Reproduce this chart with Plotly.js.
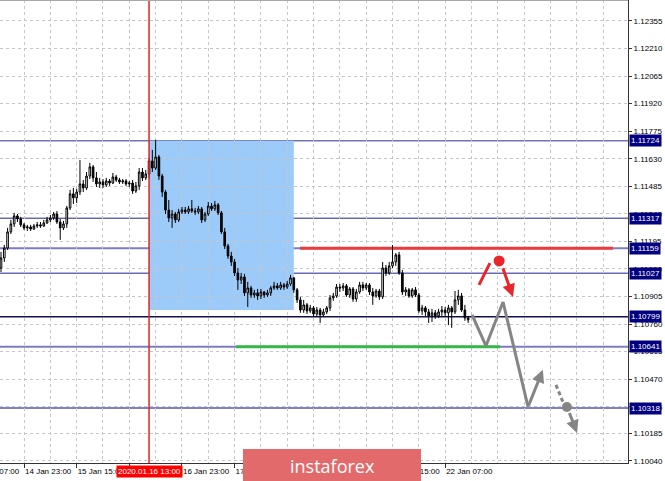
<!DOCTYPE html>
<html><head><meta charset="utf-8">
<script src="https://cdn.plot.ly/plotly-3.0.1.min.js"></script>
<style>html,body{margin:0;padding:0;background:#fff;overflow:hidden}#chart{width:665px;height:481px}</style>
</head><body><div id="chart"></div>
<script>
// EURUSD H1 candles, 14 Jan 16:00 .. 22 Jan 14:00 (bar index, weekend skipped)
const open = [1.11055,1.11108,1.11160,1.11245,1.11287,1.11329,1.11313,1.11282,1.11266,1.11271,
1.11260,1.11276,1.11282,1.11276,1.11292,1.11308,1.11318,1.11339,1.11297,1.11266,
1.11287,1.11371,1.11445,1.11424,1.11455,1.11497,1.11476,1.11539,1.11587,1.11529,
1.11497,1.11508,1.11492,1.11513,1.11502,1.11534,1.11518,1.11508,1.11513,1.11497,
1.11502,1.11460,1.11487,1.11560,1.11529,1.11550,1.11618,1.11581,1.11639,1.11539,
1.11455,1.11360,1.11318,1.11339,1.11308,1.11350,1.11360,1.11350,1.11366,1.11355,
1.11350,1.11366,1.11308,1.11339,1.11381,1.11366,1.11387,1.11345,1.11245,1.11171,
1.11118,1.11087,1.11029,1.10992,1.11008,1.10924,1.10950,1.10913,1.10924,1.10908,
1.10929,1.10913,1.10924,1.10950,1.10961,1.10950,1.10966,1.10955,1.10971,1.11003,
1.10940,1.10887,1.10834,1.10861,1.10829,1.10845,1.10813,1.10834,1.10808,1.10824,
1.10845,1.10898,1.10908,1.10955,1.10950,1.10961,1.10913,1.10945,1.10892,1.10929,
1.10966,1.10950,1.10966,1.10929,1.10908,1.10934,1.10903,1.11055,1.11029,1.11066,
1.11087,1.11124,1.11029,1.10929,1.10940,1.10908,1.10940,1.10913,1.10829,1.10845,
1.10824,1.10803,1.10819,1.10803,1.10824,1.10834,1.10819,1.10845,1.10824,1.10887,
1.10908,1.10834,1.10792];
const high = [1.11140,1.11176,1.11266,1.11308,1.11345,1.11339,1.11324,1.11292,1.11282,1.11282,
1.11287,1.11297,1.11297,1.11308,1.11324,1.11334,1.11350,1.11355,1.11313,1.11303,
1.11381,1.11466,1.11476,1.11471,1.11623,1.11518,1.11560,1.11608,1.11597,1.11560,
1.11529,1.11523,1.11529,1.11523,1.11555,1.11545,1.11529,1.11523,1.11523,1.11513,
1.11518,1.11508,1.11581,1.11581,1.11571,1.11634,1.11676,1.11729,1.11650,1.11550,
1.11466,1.11413,1.11360,1.11350,1.11366,1.11376,1.11376,1.11381,1.11413,1.11371,
1.11381,1.11376,1.11350,1.11402,1.11397,1.11408,1.11397,1.11355,1.11266,1.11182,
1.11140,1.11103,1.11055,1.11029,1.11024,1.10982,1.10961,1.10940,1.10945,1.10945,
1.10934,1.10940,1.10961,1.10982,1.10976,1.10982,1.10976,1.10987,1.11019,1.11008,
1.10950,1.10903,1.10887,1.10871,1.10861,1.10855,1.10850,1.10845,1.10840,1.10855,
1.10913,1.10924,1.10971,1.10971,1.10976,1.10971,1.10955,1.10955,1.10945,1.10982,
1.10982,1.10976,1.10976,1.10950,1.10945,1.10945,1.11087,1.11071,1.11087,1.11176,
1.11134,1.11140,1.11045,1.10955,1.10950,1.10950,1.10955,1.10924,1.10861,1.10855,
1.10840,1.10840,1.10834,1.10840,1.10855,1.10850,1.10861,1.10855,1.10934,1.10940,
1.10924,1.10861,1.10803];
const low = [1.11034,1.11087,1.11150,1.11234,1.11271,1.11297,1.11271,1.11255,1.11250,1.11250,
1.11255,1.11266,1.11266,1.11271,1.11287,1.11297,1.11308,1.11287,1.11203,1.11255,
1.11266,1.11360,1.11392,1.11397,1.11439,1.11455,1.11466,1.11523,1.11508,1.11481,
1.11476,1.11476,1.11481,1.11487,1.11497,1.11508,1.11497,1.11497,1.11487,1.11481,
1.11445,1.11450,1.11466,1.11513,1.11518,1.11529,1.11560,1.11571,1.11518,1.11429,
1.11339,1.11297,1.11266,1.11292,1.11297,1.11339,1.11339,1.11339,1.11345,1.11334,
1.11339,1.11292,1.11297,1.11329,1.11355,1.11355,1.11334,1.11234,1.11155,1.11103,
1.11066,1.11013,1.10940,1.10971,1.10908,1.10850,1.10898,1.10898,1.10887,1.10892,
1.10898,1.10903,1.10908,1.10940,1.10940,1.10940,1.10940,1.10945,1.10961,1.10924,
1.10871,1.10819,1.10819,1.10813,1.10819,1.10798,1.10798,1.10766,1.10798,1.10813,
1.10829,1.10882,1.10898,1.10929,1.10934,1.10903,1.10898,1.10877,1.10877,1.10919,
1.10934,1.10940,1.10913,1.10861,1.10898,1.10887,1.10892,1.11013,1.11019,1.11055,
1.11066,1.11019,1.10913,1.10908,1.10898,1.10898,1.10903,1.10819,1.10808,1.10803,
1.10766,1.10771,1.10787,1.10792,1.10803,1.10798,1.10755,1.10740,1.10813,1.10861,
1.10824,1.10777,1.10766];
const close = [1.11108,1.11160,1.11245,1.11287,1.11329,1.11313,1.11282,1.11266,1.11271,1.11260,
1.11276,1.11282,1.11276,1.11292,1.11308,1.11318,1.11339,1.11297,1.11266,1.11287,
1.11371,1.11445,1.11424,1.11455,1.11497,1.11476,1.11539,1.11587,1.11529,1.11497,
1.11508,1.11492,1.11513,1.11502,1.11534,1.11518,1.11508,1.11513,1.11497,1.11502,
1.11460,1.11487,1.11560,1.11529,1.11550,1.11618,1.11581,1.11639,1.11539,1.11455,
1.11360,1.11318,1.11339,1.11308,1.11350,1.11360,1.11350,1.11366,1.11355,1.11350,
1.11366,1.11308,1.11339,1.11381,1.11366,1.11387,1.11345,1.11245,1.11171,1.11118,
1.11087,1.11029,1.10992,1.11008,1.10924,1.10950,1.10913,1.10924,1.10908,1.10929,
1.10913,1.10924,1.10950,1.10961,1.10950,1.10966,1.10955,1.10971,1.11003,1.10940,
1.10887,1.10834,1.10861,1.10829,1.10845,1.10813,1.10834,1.10808,1.10824,1.10845,
1.10898,1.10908,1.10955,1.10950,1.10961,1.10913,1.10945,1.10892,1.10929,1.10966,
1.10950,1.10966,1.10929,1.10908,1.10934,1.10903,1.11055,1.11029,1.11066,1.11087,
1.11124,1.11029,1.10929,1.10940,1.10908,1.10940,1.10913,1.10829,1.10845,1.10824,
1.10803,1.10819,1.10803,1.10824,1.10834,1.10819,1.10845,1.10824,1.10887,1.10908,
1.10834,1.10792,1.10782];

const xTickBars   = [7, 23, 39, 55, 71, 87, 103, 119, 135];
const xTickLabels = ['14 Jan 23:00','15 Jan 15:00','16 Jan 07:00','16 Jan 23:00','17 Jan 15:00',
                     '20 Jan 07:00','20 Jan 23:00','21 Jan 15:00','22 Jan 07:00'];
const firstLabel = '14 Jan 07:00';
const yTickValues = [1.12355,1.12210,1.12065,1.11920,1.11775,1.11630,1.11485,1.11340,1.11195,
                     1.11050,1.10905,1.10760,1.10615,1.10470,1.10325,1.10185,1.10040];
const yTickLabels = yTickValues.map(v => v.toFixed(5));

const levels      = [1.11724, 1.11317, 1.11159, 1.11027, 1.10799, 1.10641, 1.10318];
const crosshairBar = 45;
const crosshairLabel = '2020.01.16 13:00';
const zoneBars   = [45, 89];
const zonePrices = [1.10834, 1.11724];
const resistanceBars = [90.9, 186];
const resistanceLevel = 1.11159;
const supportBars = [71.4, 151.7];
const supportLevel = 1.10641;
const greyPathBars   = [143.2, 147.4, 152.6, 160.2];
const greyPathPrices = [1.10808, 1.10645, 1.10876, 1.10324];
const greyUpArrow = {fromBar:160.2, fromPrice:1.10324, toBar:164.7, toPrice:1.10519};
const greyDashBars = [168.7, 170.8], greyDashPrices = [1.10440, 1.10350];
const greyDot = {bar:172.0, price:1.10324};
const greyDownArrow = {fromBar:172.6, fromPrice:1.10300, toBar:175.1, toPrice:1.10187};
const redStrokeBars = [145.3, 148.6], redStrokePrices = [1.10966, 1.11081];
const redDot = {bar:151.4, price:1.11092};
const redDownArrow = {fromBar:152.4, fromPrice:1.11062, toBar:155.6, toPrice:1.10903};

const barIndex = open.map((_, i) => i);

const levelStyle = [
  {c:'#2c2c94', w:1}, {c:'#24248e', w:1}, {c:'#7c7cc4', w:2}, {c:'#6a6aba', w:1.5},
  {c:'#12124e', w:1.5}, {c:'#7c7cc4', w:2}, {c:'#8080c6', w:2}
];

const traces = [
  {type:'candlestick', x:barIndex, open:open, high:high, low:low, close:close,
   increasing:{line:{color:'#000', width:1}, fillcolor:'#ffffff'},
   decreasing:{line:{color:'#000', width:1}, fillcolor:'#000000'},
   whiskerwidth:0, hoverinfo:'skip', showlegend:false},
  {type:'scatter', mode:'lines', x:greyPathBars, y:greyPathPrices,
   line:{color:'#858585', width:3}, hoverinfo:'skip'},
  {type:'scatter', mode:'lines', x:greyDashBars, y:greyDashPrices,
   line:{color:'#858585', width:3, dash:'4px,3px'}, hoverinfo:'skip'},
  {type:'scatter', mode:'markers', x:[greyDot.bar], y:[greyDot.price],
   marker:{color:'#858585', size:10}, hoverinfo:'skip'},
  {type:'scatter', mode:'lines', x:redStrokeBars, y:redStrokePrices,
   line:{color:'#e8262b', width:3}, hoverinfo:'skip'},
  {type:'scatter', mode:'markers', x:[redDot.bar], y:[redDot.price],
   marker:{color:'#e8262b', size:11}, hoverinfo:'skip'}
];

const shapes = [];
shapes.push({type:'rect', layer:'below', xref:'x', yref:'y', x0:zoneBars[0], x1:zoneBars[1],
  y0:zonePrices[0], y1:zonePrices[1], fillcolor:'#9ccbfa', line:{width:0}});
levels.forEach((lv, k) => shapes.push({type:'line', layer:'between', xref:'paper', yref:'y',
  x0:0, x1:1, y0:lv, y1:lv, line:{color:levelStyle[k].c, width:levelStyle[k].w}}));
shapes.push({type:'line', layer:'between', xref:'x', yref:'y', x0:resistanceBars[0], x1:resistanceBars[1],
  y0:resistanceLevel, y1:resistanceLevel, line:{color:'#ea3a3e', width:3}});
shapes.push({type:'line', layer:'between', xref:'x', yref:'y', x0:supportBars[0], x1:supportBars[1],
  y0:supportLevel, y1:supportLevel, line:{color:'#35b849', width:3}});
shapes.push({type:'line', layer:'above', xref:'x', yref:'paper', x0:crosshairBar, x1:crosshairBar,
  y0:0, y1:1, line:{color:'#e02424', width:1.5}});
shapes.push({type:'line', layer:'above', xref:'paper', yref:'paper', x0:0, x1:1, y0:1, y1:1,
  line:{color:'#a8a8a8', width:2}});
// watermark
shapes.push({type:'rect', layer:'above', xref:'paper', yref:'paper', x0:0.3869, x1:0.6704,
  y0:-0.07, y1:0.0302, fillcolor:'#e26a6b', line:{width:0}});

const annotations = [];
const lblFont = {family:'Liberation Sans, Arial, sans-serif', size:8, color:'#000'};
annotations.push({xref:'paper', x:-0.0455, xanchor:'left', yref:'paper', y:-0.0194, yanchor:'middle',
  text:firstLabel, showarrow:false, font:lblFont});
annotations.push({xref:'x', x:crosshairBar, xanchor:'center', yref:'paper', y:-0.0194, yanchor:'middle',
  text:crosshairLabel, showarrow:false, bgcolor:'#ff0000', borderpad:1,
  font:{family:'Liberation Sans, Arial, sans-serif', size:8, color:'#fff'}});
levels.forEach(lv => annotations.push({xref:'paper', x:1, xanchor:'left', xshift:1, yref:'y', y:lv,
  yanchor:'middle', text:lv.toFixed(5), showarrow:false, bgcolor:'#000080', borderpad:1,
  font:{family:'Liberation Sans, Arial, sans-serif', size:8, color:'#fff'}}));
function arrow(a, color){
  return {xref:'x', yref:'y', axref:'x', ayref:'y', x:a.toBar, y:a.toPrice, ax:a.fromBar, ay:a.fromPrice,
    text:'', showarrow:true, arrowhead:2, arrowsize:0.85, arrowwidth:3, arrowcolor:color};
}
annotations.push(arrow(greyUpArrow, '#858585'));
annotations.push(arrow(greyDownArrow, '#858585'));
annotations.push(arrow(redDownArrow, '#e8262b'));
annotations.push({xref:'paper', yref:'paper', x:0.5287, y:-0.006, xanchor:'center', yanchor:'middle',
  text:'instaforex', showarrow:false, font:{family:'Open Sans, sans-serif', size:18, color:'#ffffff'}});

const layout = {
  width:665, height:481,
  margin:{l:0, r:37, t:0, b:18, pad:0},
  paper_bgcolor:'#ffffff', plot_bgcolor:'#ffffff',
  showlegend:false,
  font:{family:'Liberation Sans, Arial, sans-serif', size:8, color:'#000'},
  xaxis:{type:'linear', range:[-0.304, 190.58], rangeslider:{visible:false}, fixedrange:true,
    tickmode:'array', tickvals:xTickBars, ticktext:xTickLabels, ticklabelposition:'outside right',
    tickangle:0, automargin:false,
    ticks:'outside', ticklen:4, tickcolor:'#333', tickwidth:1,
    showgrid:true, gridcolor:'#c6c6c6', gridwidth:1, griddash:'dot',
    minor:{tickmode:'linear', tick0:-1, dtick:8, showgrid:true, gridcolor:'#c6c6c6', griddash:'dot', ticks:''},
    showline:true, linecolor:'#333', linewidth:1, zeroline:false},
  yaxis:{side:'right', range:[1.10029, 1.12465], fixedrange:true, automargin:false,
    tickmode:'array', tickvals:yTickValues, ticktext:yTickLabels,
    ticks:'outside', ticklen:3, tickcolor:'#333', tickwidth:1,
    showgrid:true, gridcolor:'#c6c6c6', gridwidth:1, griddash:'dot',
    showline:true, linecolor:'#333', linewidth:1, zeroline:false},
  shapes:shapes, annotations:annotations
};
Plotly.newPlot('chart', traces, layout, {staticPlot:true, displayModeBar:false});
</script></body></html>
